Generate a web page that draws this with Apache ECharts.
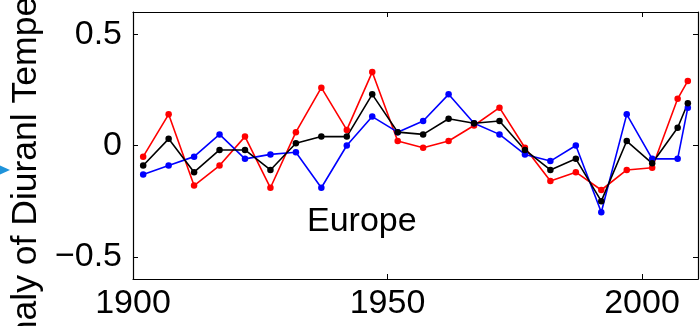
<!DOCTYPE html>
<html>
<head>
<meta charset="utf-8">
<script src="https://cdn.jsdelivr.net/npm/echarts@6/dist/echarts.min.js"></script>
<style>
  html, body { margin: 0; padding: 0; background: #fff; }
  #chart { width: 700px; height: 326px; }
</style>
</head>
<body>
<div id="chart"></div>
<script>
// Five-year mean anomalies of the diurnal temperature range, Europe
const years = [1902, 1907, 1912, 1917, 1922, 1927, 1932, 1937, 1942, 1947, 1952, 1957,
               1962, 1967, 1972, 1977, 1982, 1987, 1992, 1997, 2002, 2007, 2009];
const redSeries = [-0.05, 0.14, -0.18, -0.09, 0.04, -0.19, 0.06, 0.26, 0.07, 0.33, 0.02, -0.01,
                   0.02, 0.09, 0.17, -0.01, -0.16, -0.12, -0.20, -0.11, -0.10, 0.21, 0.29];
const blueSeries = [-0.13, -0.09, -0.05, 0.05, -0.06, -0.04, -0.03, -0.19, 0.00, 0.13, 0.06, 0.11,
                    0.23, 0.10, 0.05, -0.04, -0.07, 0.00, -0.30, 0.14, -0.06, -0.06, 0.17];
const blackSeries = [-0.09, 0.03, -0.12, -0.02, -0.02, -0.11, 0.01, 0.04, 0.04, 0.23, 0.06, 0.05,
                     0.12, 0.10, 0.11, -0.02, -0.11, -0.06, -0.25, 0.02, -0.08, 0.08, 0.19];
const xTicks = [1900, 1950, 2000];
const yTicks = [-0.5, 0, 0.5];
const regionName = 'Europe';
const yTitle = 'Anomaly of Diuranl Temperature (\u00B0C)';

const FONT = '"Liberation Sans", Arial, Helvetica, sans-serif';
const TICK_SIZE = 34;
const X_RANGE = [1900, 2011];
const Y_RANGE = [-0.6, 0.6];

const pairs = vals => years.map((y, i) => [y, vals[i]]);
const fmtX = v => String(v);
const fmtY = v => (v < 0 ? '\u2212' + Math.abs(v) : String(v));

function xAxisDef(position, showLabels) {
  return {
    type: 'value', position, min: X_RANGE[0], max: X_RANGE[1],
    axisLine: { show: true, onZero: false, lineStyle: { color: '#000', width: 1.2 } },
    axisTick: { show: true, inside: true, length: 5, customValues: xTicks,
                lineStyle: { color: '#000', width: 1 } },
    axisLabel: { show: showLabels, customValues: xTicks, margin: 8, color: '#000',
                 fontSize: TICK_SIZE, fontFamily: FONT, formatter: fmtX },
    splitLine: { show: false }
  };
}
function yAxisDef(position, showLabels) {
  const axis = {
    type: 'value', position, min: Y_RANGE[0], max: Y_RANGE[1],
    axisLine: { show: true, onZero: false, lineStyle: { color: '#000', width: 1.2 } },
    axisTick: { show: true, inside: true, length: 5, customValues: yTicks,
                lineStyle: { color: '#000', width: 1 } },
    axisLabel: { show: showLabels, customValues: yTicks, margin: 11, color: '#000',
                 fontSize: TICK_SIZE, fontFamily: FONT, formatter: fmtY },
    splitLine: { show: false }
  };
  if (showLabels) {
    axis.name = yTitle;
    axis.nameLocation = 'middle';
    axis.nameGap = 87;
    axis.nameTextStyle = { color: '#000', fontSize: 35.5, fontFamily: FONT, padding: [0, 0, 0, 47] };
  }
  return axis;
}

function lineSeries(name, vals, color) {
  return {
    name, type: 'line', data: pairs(vals), xAxisIndex: 0, yAxisIndex: 0,
    symbol: 'circle', symbolSize: 6.5, showSymbol: true,
    lineStyle: { color, width: 1.6 }, itemStyle: { color },
    emphasis: { disabled: true }
  };
}

const chart = echarts.init(document.getElementById('chart'), null, { renderer: 'canvas' });
chart.setOption({
  animation: false,
  backgroundColor: '#fff',
  grid: { left: 133, right: 2, top: 12, bottom: 47, containLabel: false, outerBoundsMode: 'none' },
  xAxis: [xAxisDef('bottom', true), xAxisDef('top', false)],
  yAxis: [yAxisDef('left', true), yAxisDef('right', false)],
  series: [
    lineSeries('red', redSeries, '#ff0000'),
    lineSeries('blue', blueSeries, '#0000ff'),
    lineSeries('black', blackSeries, '#000000')
  ],
  graphic: [
    {
      type: 'text', z: 10,
      style: { x: 307, y: 221.5, text: regionName, font: '34px ' + FONT,
               fill: '#000', align: 'left', verticalAlign: 'middle' }
    },
    {
      type: 'polygon', z: 10,
      shape: { points: [[0, 165.5], [10, 170], [0, 174.5]] },
      style: { fill: '#1f93da' }
    }
  ]
});
</script>
</body>
</html>
